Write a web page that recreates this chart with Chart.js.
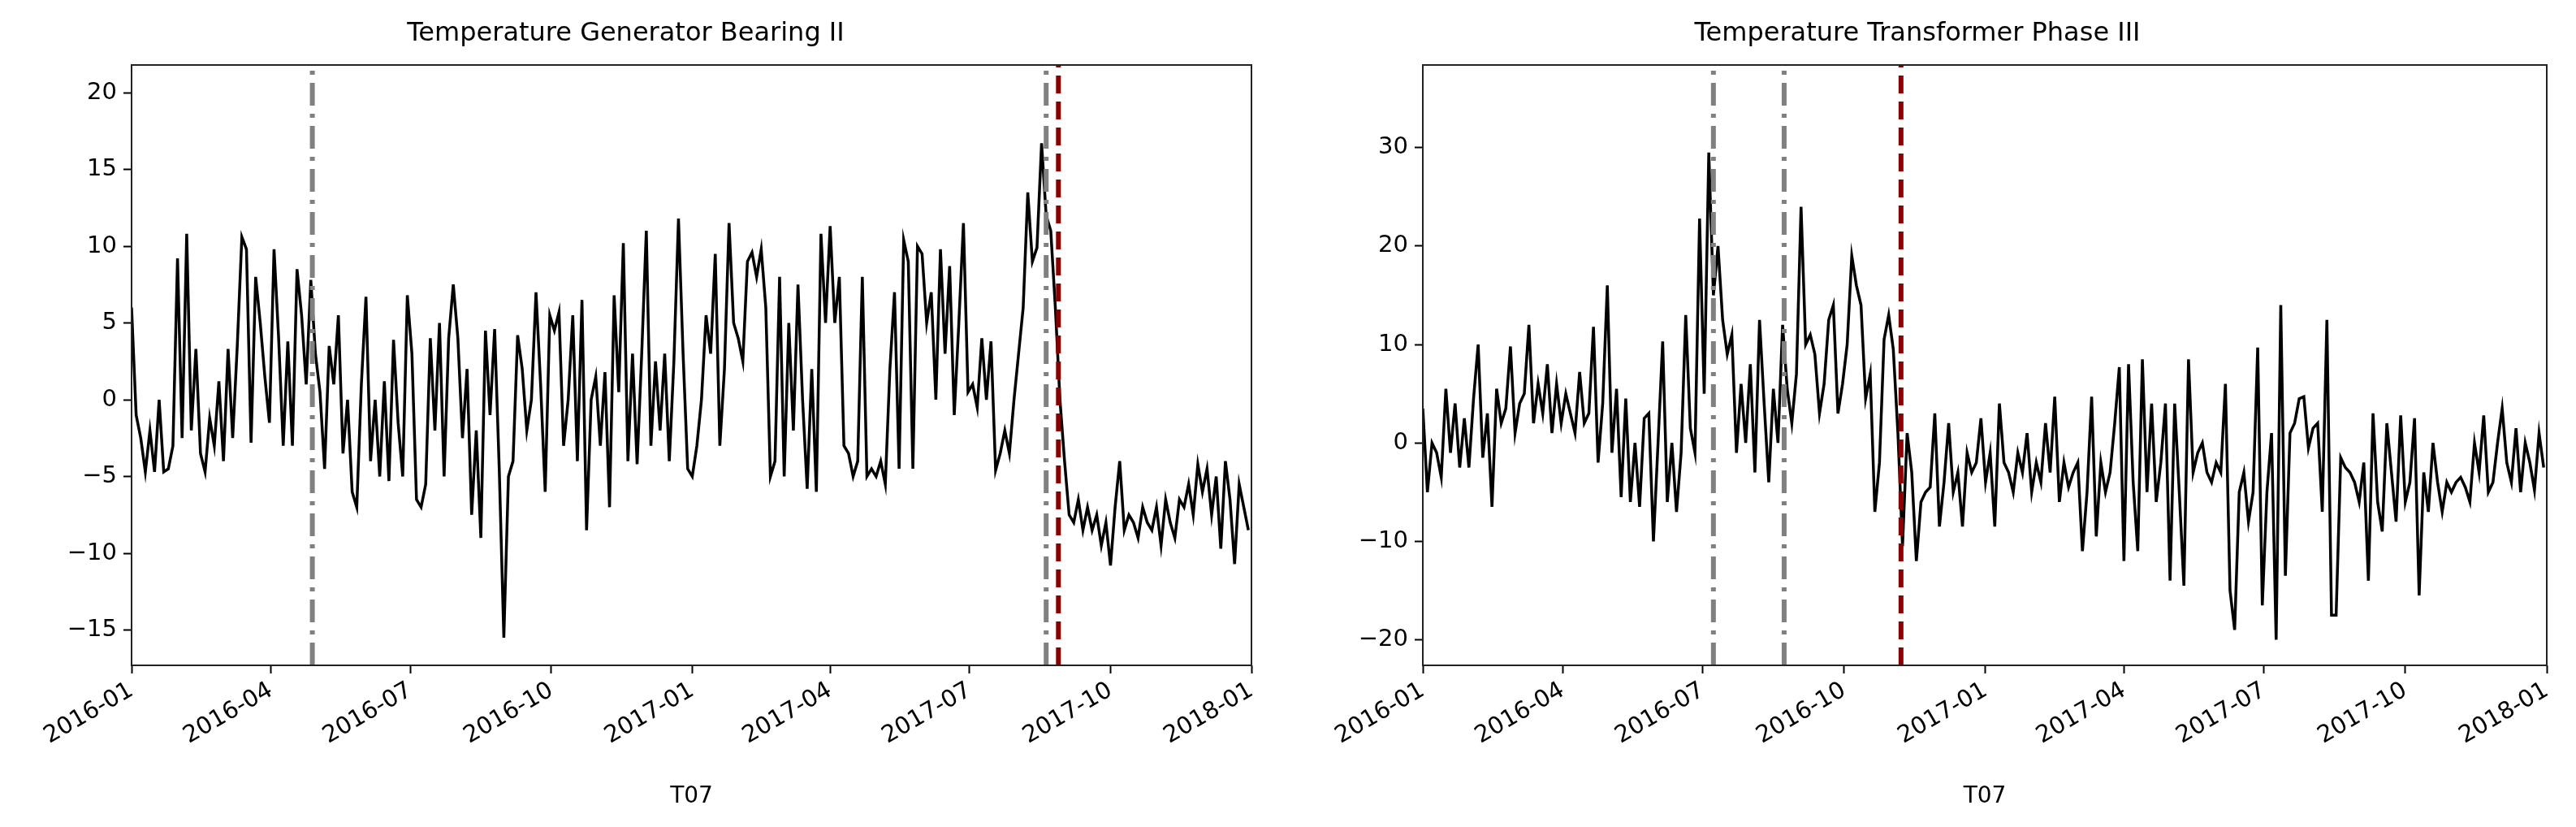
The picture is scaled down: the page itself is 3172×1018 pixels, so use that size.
<!DOCTYPE html>
<html><head><meta charset="utf-8">
<script src="https://cdn.jsdelivr.net/npm/chart.js@4"></script>
<style>html,body{margin:0;padding:0;background:#fff;overflow:hidden}canvas{position:absolute;top:0}</style>
</head><body>
<canvas id="c1" width="1586" height="1018" style="left:0"></canvas>
<canvas id="c2" width="1586" height="1018" style="left:1586px"></canvas>
<script>
// day offsets from 2016-01-01, sampled every 3 days
const stepDays = 3;
const monthTickDays = [0, 91, 182, 274, 366, 456, 547, 639, 731];
const monthTickLabels = ['2016-01','2016-04','2016-07','2016-10','2017-01','2017-04','2017-07','2017-10','2018-01'];

const titleLeft = 'Temperature Generator Bearing II';
const titleRight = 'Temperature Transformer Phase III';
const xTitle = 'T07';

const bearingValues = [
 6,-1,-2.5,-4.7,-2,-4.7,0,-4.7,-4.5,-3,
 9.2,-2.5,10.8,-2,3.3,-3.5,-4.7,-1.2,-3,1.2,
 -4,3.3,-2.5,3.5,10.6,9.8,-2.8,8,5,1.5,
 -1.5,9.8,4,-3,3.8,-3,8.5,5.5,1,7.8,
 3,0.5,-4.5,3.5,1,5.5,-3.5,0,-6,-7,
 1,6.7,-4,0,-5,1.2,-5.3,3.9,-1.5,-5,
 6.8,3,-6.5,-7,-5.5,4,-2,5,-5,4,
 7.5,4,-2.5,2,-7.5,-2,-9,4.5,-1,4.6,
 -4.5,-15.5,-5,-4,4.2,2,-2,0,7,1,
 -6,5.5,4.5,5.7,-3,0,5.5,-4,6.5,-8.5,
 0,1.5,-3,1.8,-7,6.8,0.5,10.2,-4,3,
 -4.2,3,11,-3,2.5,-2,3,-4,2.5,11.8,
 3,-4.5,-5,-3,0,5.5,3,9.5,-3,2,
 11.5,5,4,2.5,9,9.6,8,9.8,6,-5,
 -4,8,-5,5,-2,7.5,0,-5.8,2,-6,
 10.8,5,11.3,5,8,-3,-3.5,-5,-4,8,
 -5,-4.5,-5,-4,-5.5,2,7,-4.5,10.4,9,
 -4.5,10,9.5,5,7,0,9.8,3,8.7,-1,
 5,11.5,0.5,1,-0.5,4,0,3.8,-4.6,-3.5,
 -2,-3.5,0,3,6,13.5,9,9.9,16.7,12,
 11,6,0,-4,-7.5,-8,-6.5,-8.5,-7,-8.5,
 -7.5,-9.5,-8,-10.8,-7,-4,-8.5,-7.5,-8,-9,
 -7,-8,-8.5,-7,-9.5,-6.5,-8,-9,-6.5,-7,
 -5.5,-7.5,-4.2,-6,-4.5,-7.5,-5,-9.7,-4,-6.5,
 -10.7,-5.5,-7,-8.5
];
const transformerValues = [
 3.5,-5,0,-1,-3.5,5.5,-1,4,-2.5,2.5,
 -2.5,4.5,10,-1.5,3,-6.5,5.5,2,3.5,9.8,
 1,4,5,12,2,6,3,8,1,6,
 2,5,3,1,7.2,2,3,11.8,-2,4,
 16,-1,5.5,-5.5,4.5,-6,0,-6.5,2.5,3,
 -10,0,10.3,-6,0,-7,-1,13,1.5,-1,
 22.8,5,29.5,15,20,12.5,9,11,-1,6,
 0,8,-3,12.5,4,-4,5.5,0,12,5.5,
 2,7,24,10,11,9,3,6,12.5,14,
 3,6,10,19,16,14,4.5,7,-7,-2,
 10.5,13,9.5,1,-10.5,1,-3,-12,-6,-5,
 -4.5,3,-8.5,-4,2,-5,-3,-8.5,-1,-3,
 -2,2.5,-4,-1,-8.5,4,-2,-3,-5,-1,
 -3,1,-5,-2,-4,2,-3,4.7,-6,-2,
 -4.5,-3,-2,-11,-5,4.7,-9.5,-2,-5,-3,
 2,7.7,-12,8,-4,-11,8.5,-5,4,-6,
 -2,4,-14,4,-5,-14.5,8.5,-3,-1,0,
 -3,-4,-2,-3,6,-15,-19,-5,-3,-8,
 -5,9.7,-16.5,-5,1,-20,14,-13.5,1,2,
 4.5,4.7,-0.5,1.5,2,-7,12.5,-17.5,-17.5,-1.5,
 -2.5,-3,-4,-6,-2,-14,3,-6,-9,2,
 -3,-8,2.8,-6,-4,2.5,-15.5,-3,-7,0,
 -4,-7,-4,-5,-4,-3.5,-4.5,-6,0,-3,
 2.8,-5,-4,0,3.5,-2,-4,1.5,-5,0,
 -2,-4.8,1,-2.5
];
// event markers (days since 2016-01-01)
const leftGrayDays = [118, 597];
const leftRedDays = [605];
const rightGrayDays = [189, 235];
const rightRedDays = [311];

const leftYTicks = [-15,-10,-5,0,5,10,15,20];
const rightYTicks = [-20,-10,0,10,20,30];

Chart.defaults.font.family = 'DejaVu Sans';
Chart.defaults.color = '#000';

function toPoints(vals){ return vals.map((v,i)=>({x:i*stepDays,y:v})); }
function vline(day, ymin, ymax, color, dash){
  return {data:[{x:day,y:ymin},{x:day,y:ymax}], borderColor:color, borderWidth:6, borderDash:dash, pointRadius:0, fill:false, order:0};
}
const frame = {id:'frame', afterDraw(c){const a=c.chartArea,x=c.ctx;x.save();x.strokeStyle='#222';x.lineWidth=2;x.strokeRect(a.left,a.top,a.right-a.left,a.bottom-a.top);x.restore();}};

function makeChart(id, title, vals, yMin, yMax, yTicks, grays, reds, yWidth, padRight){
  const ds=[{data:toPoints(vals), borderColor:'#000', borderWidth:3.5, pointRadius:0, fill:false, tension:0, order:1}];
  grays.forEach(d=>ds.push(vline(d,yMin,yMax,'#808080',[28,10,5,10])));
  reds.forEach(d=>ds.push(vline(d,yMin,yMax,'#8b0000',[22,10])));
  new Chart(document.getElementById(id), {
    type:'line', data:{datasets:ds}, plugins:[frame],
    options:{responsive:false, animation:false, devicePixelRatio:1,
      layout:{padding:{left:0,right:padRight,top:0,bottom:16}},
      plugins:{legend:{display:false}, tooltip:{enabled:false},
        title:{display:true,text:title,font:{size:32,weight:'normal'},color:'#000',padding:{top:22,bottom:19.6}}},
      scales:{
        x:{type:'linear',min:0,max:731,
          afterBuildTicks:s=>{s.ticks=monthTickDays.map(v=>({value:v}));},
          afterFit:s=>{s.height=183;},
          grid:{drawOnChartArea:false,tickLength:10,color:'#000',tickWidth:2},
          border:{display:false},
          ticks:{autoSkip:false,minRotation:30,maxRotation:30,font:{size:29},color:'#000',padding:4,
            callback:(v)=>{const i=monthTickDays.indexOf(v);return i>=0?monthTickLabels[i]:'';}},
          title:{display:true,text:xTitle,font:{size:28},color:'#000',padding:{top:4}}},
        y:{min:yMin,max:yMax,
          afterBuildTicks:s=>{s.ticks=yTicks.map(v=>({value:v}));},
          afterFit:s=>{s.width=yWidth;},
          grid:{drawOnChartArea:false,tickLength:10,color:'#000',tickWidth:2},
          border:{display:false},
          ticks:{font:{size:29},color:'#000',padding:8,callback:v=>String(v).replace('-','\u2212')}}
      }}
  });
}
makeChart('c1', titleLeft, bearingValues, -17.3, 21.8, leftYTicks, leftGrayDays, leftRedDays, 162, 45);
makeChart('c2', titleRight, transformerValues, -22.6, 38.4, rightYTicks, rightGrayDays, rightRedDays, 166, 36);
</script>
</body></html>
